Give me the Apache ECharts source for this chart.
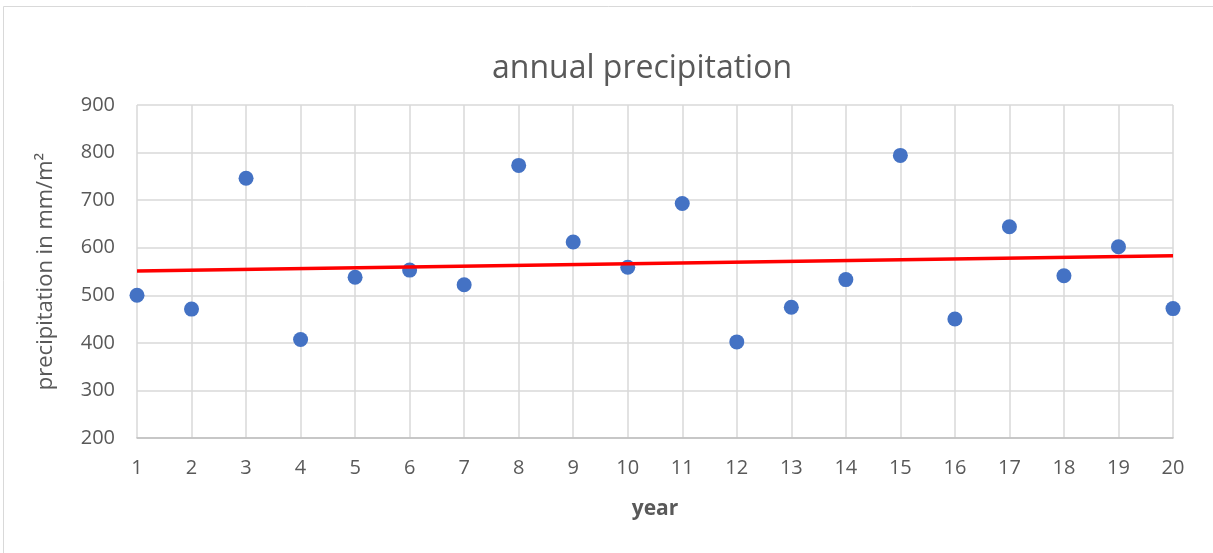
<!DOCTYPE html>
<html>
<head>
<meta charset="utf-8">
<script src="https://cdn.jsdelivr.net/npm/echarts@6/dist/echarts.min.js"></script>
<style>
  html, body { margin: 0; padding: 0; background: #fff; }
  #main { width: 1213px; height: 553px; }
</style>
</head>
<body>
<div id="main"></div>
<script>
// years on the x axis
var years = [1, 2, 3, 4, 5, 6, 7, 8, 9, 10, 11, 12, 13, 14, 15, 16, 17, 18, 19, 20];
// precipitation (mm/m²)
var precipitation = [500, 471, 746, 407, 538, 553, 522, 773, 612, 559, 693, 402, 475, 533, 794, 450, 644, 541, 602, 472];
// linear trend line endpoints (year 1 and year 20)
var trendYears = [1, 20];
var trendValues = [551, 583];

var chart = echarts.init(document.getElementById('main'));

var labelFont = 'Open Sans';
var textColor = '#595959';

var option = {
    backgroundColor: '#fff',
    animation: false,
    textStyle: { fontFamily: labelFont },
    title: {
        text: 'annual precipitation',
        left: 637,
        top: 48,
        textAlign: 'center',
        textStyle: {
            fontFamily: labelFont,
            fontSize: 32,
            fontWeight: 'normal',
            color: textColor
        }
    },
    graphic: [
        {
            type: 'rect',
            shape: { x: 3.5, y: 6.5, width: 1220, height: 560 },
            style: { fill: 'none', stroke: '#d9d9d9', lineWidth: 1 },
            silent: true
        }
    ],
    grid: {
        left: 137,
        right: 40,
        top: 105,
        bottom: 115
    },
    xAxis: {
        type: 'value',
        min: 1,
        max: 20,
        interval: 1,
        name: 'year',
        nameLocation: 'middle',
        nameGap: 61,
        nameTextStyle: {
            fontFamily: labelFont,
            fontSize: 21,
            fontWeight: 'bold',
            color: textColor
        },
        axisLine: { show: true, onZero: false, lineStyle: { color: '#bfbfbf', width: 1.5 } },
        axisTick: { show: false },
        axisLabel: {
            margin: 20,
            fontFamily: labelFont,
            fontSize: 20,
            color: textColor
        },
        splitLine: { show: true, lineStyle: { color: '#d9d9d9', width: 1.5 } }
    },
    yAxis: {
        type: 'value',
        min: 200,
        max: 900,
        interval: 100,
        name: 'precipitation in mm/m²',
        nameLocation: 'middle',
        nameGap: 80,
        nameTextStyle: {
            fontFamily: labelFont,
            fontSize: 22,
            color: textColor
        },
        axisLine: { show: false },
        axisTick: { show: false },
        axisLabel: {
            margin: 22,
            fontFamily: labelFont,
            fontSize: 20,
            color: textColor
        },
        splitLine: { show: true, lineStyle: { color: '#d9d9d9', width: 1.5 } }
    },
    series: [
        {
            name: 'precipitation',
            type: 'scatter',
            symbol: 'circle',
            symbolSize: 15,
            itemStyle: { color: '#4472c4', opacity: 1 },
            data: years.map(function (y, i) { return [y, precipitation[i]]; }),
            z: 3
        },
        {
            name: 'trend',
            type: 'line',
            symbol: 'none',
            lineStyle: { color: '#ff0000', width: 3.5 },
            data: trendYears.map(function (y, i) { return [y, trendValues[i]]; }),
            z: 4
        }
    ]
};

chart.setOption(option);
</script>
</body>
</html>
